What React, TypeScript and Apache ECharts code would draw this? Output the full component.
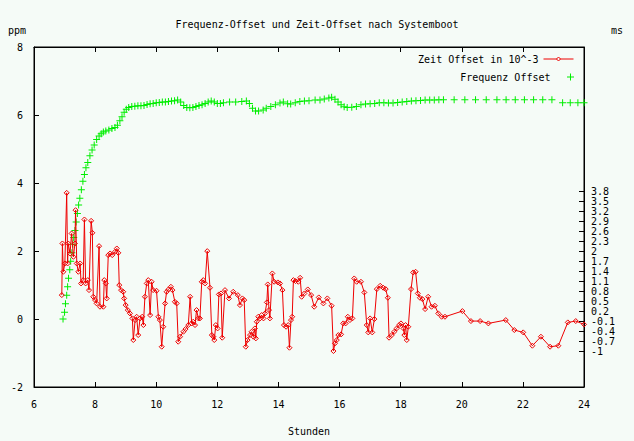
import React, { useEffect, useRef } from "react";
import * as echarts from "echarts";

// ---- data (hours after boot) ----
const zeitHours = [
  6.91, 6.93, 6.96, 7.01, 7.07, 7.10, 7.12, 7.18, 7.23, 7.29, 7.34, 7.36, 7.40, 7.45, 7.51, 7.54, 7.61, 7.65, 7.69, 7.76,
  7.80, 7.87, 7.91, 7.94, 8.00, 8.05, 8.13, 8.16, 8.27, 8.30, 8.35, 8.38, 8.43, 8.49, 8.56, 8.65, 8.71, 8.76, 8.79, 8.85,
  8.92, 8.95, 9.00, 9.07, 9.14, 9.22, 9.25, 9.31, 9.36, 9.41, 9.47, 9.54, 9.58, 9.63, 9.69, 9.74, 9.80, 9.85, 9.90, 10.01,
  10.07, 10.12, 10.18, 10.23, 10.29, 10.34, 10.40, 10.48, 10.53, 10.61, 10.67, 10.72, 10.78, 10.89, 10.96, 11.05, 11.11, 11.16, 11.21, 11.27,
  11.32, 11.38, 11.43, 11.49, 11.54, 11.60, 11.67, 11.76, 11.82, 11.87, 11.90, 11.95, 12.01, 12.05, 12.12, 12.16, 12.25, 12.38, 12.52, 12.67,
  12.74, 12.82, 12.88, 12.93, 12.99, 13.07, 13.12, 13.18, 13.23, 13.26, 13.29, 13.34, 13.40, 13.45, 13.51, 13.56, 13.62, 13.65, 13.69, 13.72,
  13.80, 13.86, 13.98, 14.05, 14.13, 14.18, 14.25, 14.32, 14.36, 14.41, 14.45, 14.49, 14.56, 14.65, 14.71, 14.76, 14.85, 14.96, 15.07, 15.17,
  15.32, 15.47, 15.60, 15.74, 15.80, 15.85, 15.91, 15.96, 16.05, 16.12, 16.20, 16.27, 16.34, 16.42, 16.48, 16.56, 16.70, 16.81, 16.89, 16.94,
  17.00, 17.07, 17.14, 17.22, 17.33, 17.43, 17.51, 17.58, 17.62, 17.71, 17.79, 17.87, 17.95, 18.01, 18.09, 18.12, 18.16, 18.20, 18.25, 18.34,
  18.41, 18.49, 18.56, 18.63, 18.71, 18.80, 18.90, 19.01, 19.12, 19.23, 19.34, 19.45, 20.02, 20.30, 20.60, 20.87, 21.44, 21.72, 22.01, 22.31,
  22.59, 22.89, 23.16, 23.47, 23.73, 24.0,
];
const zeitOffset = [
  0.69, 2.24, 1.39, 1.64, 3.76, 1.64, 2.24, 1.94, 2.54, 1.84, 2.24, 3.24, 1.64, 1.39, 1.64, 1.04, 1.14, 2.96, 1.04, 1.14,
  0.84, 2.92, 2.56, 0.64, 0.54, 0.44, 2.16, 0.34, 0.34, 1.14, 1.04, 0.59, 1.89, 1.94, 1.89, 1.99, 2.09, 1.96, 0.99, 0.84,
  0.79, 0.59, 0.39, 0.24, 0.14, -0.01, -0.66, -0.06, 0.04, -0.51, -0.01, 0.04, -0.21, 0.64, 1.04, 1.14, 0.09, 1.09, 0.84, 0.82,
  0.04, -0.06, -0.86, -0.26, 0.44, 0.79, 0.86, 0.94, 0.84, 0.49, 0.44, -0.71, -0.56, -0.41, -0.33, -0.21, 0.64, -0.16, -0.11, -0.21,
  0.24, -0.01, -0.01, 1.09, 1.14, 1.04, 2.01, 0.91, -0.51, -0.56, -0.66, -0.21, -0.31, 0.71, 0.74, -0.59, 0.84, 0.59, 0.79, 0.69,
  0.39, 0.59, 0.54, -0.86, -0.66, -0.51, -0.41, -0.56, -0.31, -0.61, -0.11, 0.04, -0.01, 0.09, -0.01, 0.14, 0.47, 1.01, 0.24, -0.01,
  1.34, 1.09, 1.07, 1.04, 0.84, -0.21, -0.26, -0.21, -0.89, -0.06, 0.04, 1.14, 1.11, 1.09, 1.21, 0.64, 0.74, 0.86, 0.69, 0.34,
  0.62, 0.44, 0.59, 0.37, -0.99, -0.76, -0.66, -0.51, -0.49, -0.16, -0.16, 0.04, -0.06, -0.01, 1.19, 1.09, 1.09, 0.77, -0.21, -0.43,
  -0.01, -0.43, -0.03, 0.87, 0.97, 0.91, 0.87, 0.61, -0.59, -0.51, -0.41, -0.31, -0.21, -0.16, -0.31, -0.51, -0.21, -0.66, -0.26, 0.87,
  1.37, 1.39, 0.74, 0.61, 0.57, 0.27, 0.64, 0.34, 0.37, 0.14, 0.04, 0.04, 0.21, -0.09, -0.09, -0.16, -0.06, -0.36, -0.43, -0.83,
  -0.56, -0.86, -0.83, -0.13, -0.09, -0.19,
];

const freqHours = [
  6.95, 7.0, 7.03, 7.07, 7.1, 7.13, 7.17, 7.2, 7.24, 7.27, 7.3, 7.34, 7.38, 7.42, 7.46, 7.5, 7.55, 7.6, 7.65, 7.7,
  7.76, 7.83, 7.9, 7.97, 8.05, 8.13, 8.2, 8.27, 8.35, 8.45, 8.55, 8.65, 8.73, 8.81, 8.88, 8.95, 9.02, 9.1, 9.2, 9.3,
  9.4, 9.5, 9.6, 9.7, 9.8, 9.9, 10.0, 10.1, 10.2, 10.3, 10.4, 10.5, 10.6, 10.7, 10.8, 10.9, 11.0, 11.1, 11.2, 11.3,
  11.4, 11.5, 11.6, 11.7, 11.8, 11.9, 12.0, 12.1, 12.2, 12.4, 12.6, 12.8, 12.95, 13.05, 13.15, 13.25, 13.35, 13.5, 13.6, 13.75,
  13.9, 14.05, 14.16, 14.3, 14.4, 14.55, 14.7, 14.85, 15.0, 15.2, 15.36, 15.5, 15.65, 15.74, 15.85, 15.95, 16.05, 16.15, 16.25, 16.4,
  16.55, 16.7, 16.85, 17.0, 17.15, 17.3, 17.45, 17.6, 17.75, 17.9, 18.05, 18.2, 18.35, 18.5, 18.65, 18.8, 18.95, 19.1, 19.25, 19.4,
  19.75, 20.1, 20.45, 20.8, 21.15, 21.45, 21.75, 22.05, 22.35, 22.65, 22.95, 23.3, 23.55, 23.8, 24.0,
];
const freqOffset = [
  0.0, 0.2, 0.45, 0.7, 0.95, 1.2, 1.45, 1.7, 1.95, 2.2, 2.4, 2.6, 2.85, 3.1, 3.35, 3.55, 3.8, 4.05, 4.25, 4.45,
  4.6, 4.8, 4.97, 5.12, 5.28, 5.38, 5.45, 5.5, 5.53, 5.56, 5.6, 5.63, 5.7, 5.83, 5.95, 6.08, 6.17, 6.22, 6.25, 6.26,
  6.27, 6.27, 6.28, 6.31, 6.33, 6.34, 6.36, 6.37, 6.38, 6.38, 6.4, 6.41, 6.42, 6.44, 6.38, 6.28, 6.22, 6.21, 6.22, 6.25,
  6.28, 6.3, 6.34, 6.38, 6.41, 6.38, 6.34, 6.34, 6.36, 6.38, 6.38, 6.4, 6.41, 6.34, 6.2, 6.12, 6.12, 6.15, 6.2, 6.25,
  6.3, 6.35, 6.38, 6.33, 6.32, 6.36, 6.4, 6.41, 6.42, 6.44, 6.44, 6.47, 6.5, 6.52, 6.46, 6.38, 6.3, 6.24, 6.22, 6.23,
  6.25, 6.3, 6.32, 6.33, 6.34, 6.36, 6.36, 6.35, 6.35, 6.37, 6.38, 6.4, 6.41, 6.42, 6.43, 6.44, 6.44, 6.44, 6.45, 6.45,
  6.45, 6.45, 6.45, 6.45, 6.45, 6.45, 6.45, 6.45, 6.45, 6.45, 6.45, 6.36, 6.36, 6.36, 6.36,
];

const y2TickValues = [-1, -0.7, -0.4, -0.1, 0.2, 0.5, 0.8, 1.1, 1.4, 1.7, 2, 2.3, 2.6, 2.9, 3.2, 3.5, 3.8];

const TITLE = "Frequenz-Offset und Zeit-Offset nach Systemboot";
const ZEIT = "Zeit Offset in 10^-3";
const FREQ = "Frequenz Offset";

const FONT = "'DejaVu Sans Mono', 'Liberation Mono', monospace";
const BG = "#f5fbf7";
const RED = "#ee0000";
const PLUS = "path://M3,0H4V3H7V4H4V7H3V4H0V3H3Z";
const DIAMOND = "path://M2.5,0L5,2.5L2.5,5L0,2.5Z";

export default function App() {
  const ref = useRef<HTMLDivElement>(null);
  useEffect(() => {
    if (!ref.current) return;
    const chart = echarts.init(ref.current, undefined, { renderer: "svg" });
    const black = { color: "#000", width: 1 };
    const axisText = { color: "#000", fontFamily: FONT, fontSize: 10 };
    chart.setOption({
      animation: false,
      backgroundColor: BG,
      textStyle: { fontFamily: FONT, fontSize: 10, color: "#000" },
      title: {
        text: TITLE,
        left: "center",
        top: 14,
        textStyle: { fontFamily: FONT, fontSize: 10, fontWeight: "normal", color: "#000" },
      },
      graphic: [
        { type: "text", left: 8, top: 25, style: { text: "ppm", fontFamily: FONT, fontSize: 10, fill: "#000" } },
        { type: "text", left: 611, top: 25, style: { text: "ms", fontFamily: FONT, fontSize: 10, fill: "#000" } },
      ],
      legend: [
        {
          data: [ZEIT],
          right: 60,
          top: 54,
          align: "right",
          orient: "vertical",
          padding: 0,
          itemWidth: 30,
          itemHeight: 5,
          itemStyle: { color: BG, borderColor: RED, borderWidth: 1 },
          lineStyle: { color: RED, width: 1 },
          textStyle: { fontFamily: FONT, fontSize: 10, color: "#000" },
          selectedMode: false,
        },
        {
          data: [FREQ],
          right: 60,
          top: 72,
          align: "right",
          orient: "vertical",
          padding: 0,
          itemWidth: 30,
          itemHeight: 7,
          textStyle: { fontFamily: FONT, fontSize: 10, color: "#000" },
          selectedMode: false,
        },
      ],
      grid: {
        left: 34,
        right: 50,
        top: 47,
        bottom: 52,
        show: true,
        borderColor: "#000",
        borderWidth: 1,
        backgroundColor: "transparent",
      },
      xAxis: [
        {
          type: "value",
          min: 6,
          max: 24,
          interval: 2,
          position: "bottom",
          name: "Stunden",
          nameLocation: "middle",
          nameGap: 39,
          nameTextStyle: axisText,
          axisLine: { show: true, onZero: false, lineStyle: black },
          axisTick: { show: true, inside: true, length: 5, lineStyle: black },
          axisLabel: { ...axisText, margin: 12 },
          splitLine: { show: false },
        },
        {
          type: "value",
          min: 6,
          max: 24,
          interval: 2,
          position: "top",
          axisLine: { show: true, onZero: false, lineStyle: black },
          axisTick: { show: true, inside: true, length: 5, lineStyle: black },
          axisLabel: { show: false },
          splitLine: { show: false },
        },
      ],
      yAxis: [
        {
          type: "value",
          min: -2,
          max: 8,
          interval: 2,
          position: "left",
          axisLine: { show: true, onZero: false, lineStyle: black },
          axisTick: { show: true, inside: true, length: 5, lineStyle: black },
          axisLabel: { ...axisText, margin: 11 },
          splitLine: { show: false },
        },
        {
          type: "value",
          min: -2.07,
          max: 8.14,
          position: "right",
          axisLine: { show: true, onZero: false, lineStyle: black },
          axisTick: { show: true, inside: true, length: 5, lineStyle: black, customValues: y2TickValues },
          axisLabel: { ...axisText, margin: 7, customValues: y2TickValues },
          splitLine: { show: false },
        },
      ],
      series: [
        {
          name: ZEIT,
          type: "line",
          xAxisIndex: 0,
          yAxisIndex: 1,
          data: zeitHours.map((h, i) => [h, zeitOffset[i]]),
          symbol: DIAMOND,
          symbolSize: 5,
          symbolKeepAspect: true,
          showSymbol: true,
          showAllSymbol: true,
          lineStyle: { color: RED, width: 1 },
          itemStyle: { color: "none", borderColor: RED, borderWidth: 1 },
          emphasis: { disabled: true },
        },
        {
          name: FREQ,
          type: "scatter",
          xAxisIndex: 0,
          yAxisIndex: 0,
          data: freqHours.map((h, i) => [h, freqOffset[i]]),
          symbol: PLUS,
          symbolSize: 7,
          symbolKeepAspect: true,
          itemStyle: { color: "#00ee00", opacity: 1 },
          emphasis: { disabled: true },
        },
      ],
    });
    return () => chart.dispose();
  }, []);
  return <div ref={ref} style={{ position: "fixed", left: 0, top: 0, width: 634, height: 441 }} />;
}
